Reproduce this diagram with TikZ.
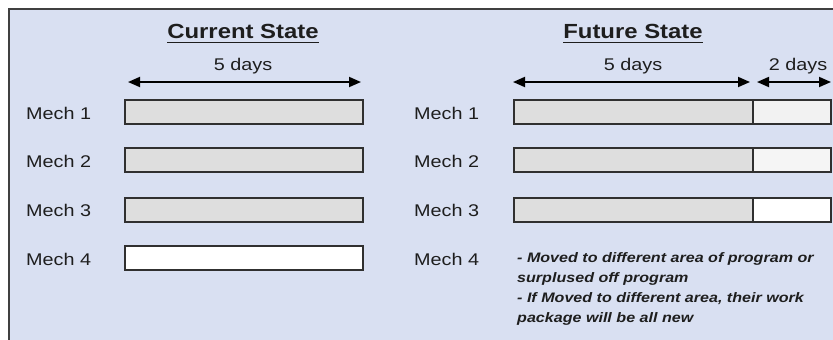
\documentclass[tikz,border=0pt]{standalone}
\usepackage{fontspec}
\setmainfont{Liberation Sans}[FakeStretch=1.17]
\usetikzlibrary{arrows.meta}
\definecolor{bg}{HTML}{D9E0F2}
\definecolor{framec}{HTML}{404040}
\definecolor{barc}{HTML}{303030}
\definecolor{grayfill}{HTML}{DEDEDE}
\definecolor{light1}{HTML}{F2F2F2}
\definecolor{light2}{HTML}{F5F5F5}
\definecolor{txt}{HTML}{1E1E1E}
\tikzset{
  bar/.style={draw=barc, line width=2bp, minimum height=24bp, inner sep=0pt, anchor=west},
  mech/.style={text=txt, font=\fontsize{17}{20}\selectfont, anchor=base west, inner sep=0pt},
  title/.style={text=txt, font=\fontsize{20.5}{24}\selectfont\bfseries, anchor=base, inner sep=0pt},
  days/.style={text=txt, font=\fontsize{17}{20}\selectfont, anchor=base, inner sep=0pt},
  dimarrow/.style={draw=black, line width=1.8bp, {Triangle[length=12bp,width=10bp]}-{Triangle[length=12bp,width=10bp]}},
  note/.style={text=txt, font=\fontsize{13.8}{20}\selectfont\bfseries\itshape, align=left, anchor=base west, inner sep=0pt}
}
\begin{document}
\begin{tikzpicture}[x=1bp,y=-1bp]
\useasboundingbox (0,0) rectangle (833,339);
\clip (0,0) rectangle (833,339);
\draw[fill=bg, draw=framec, line width=2bp] (9,9) rectangle (860,360);

% titles
\node[title] (ct) at (243,38.5) {Current State};
\draw[txt, line width=1.5bp] ([yshift=-4bp]ct.base west) -- ([yshift=-4bp]ct.base east);
\node[title] (ft) at (633,38.5) {Future State};
\draw[txt, line width=1.5bp] ([yshift=-4bp]ft.base west) -- ([yshift=-4bp]ft.base east);

% dimension labels and arrows
\node[days] (cd) at (243,70) {5 days};
\coordinate (ca1) at (128,82);
\coordinate (ca2) at (361,82);
\draw[dimarrow] (ca1) -- (ca2);
\node[days] (fd5) at (633,70) {5 days};
\coordinate (fa1) at (513,82);
\coordinate (fa2) at (750,82);
\draw[dimarrow] (fa1) -- (fa2);
\node[days] (fd2) at (798,70) {2 days};
\coordinate (fb1) at (757,82);
\coordinate (fb2) at (831,82);
\draw[dimarrow] (fb1) -- (fb2);

% current state rows
\node[mech] (cm1) at (26,119) {Mech 1};
\node[mech] (cm2) at (26,167.5) {Mech 2};
\node[mech] (cm3) at (26,216.5) {Mech 3};
\node[mech] (cm4) at (26,265.5) {Mech 4};
\node[bar, fill=grayfill, minimum width=238bp] (cb1) at (124,112) {};
\node[bar, fill=grayfill, minimum width=238bp] (cb2) at (124,160) {};
\node[bar, fill=grayfill, minimum width=238bp] (cb3) at (124,209.5) {};
\node[bar, fill=white, minimum width=238bp] (cb4) at (124,258) {};

% future state rows
\node[mech] (fm1) at (414,119) {Mech 1};
\node[mech] (fm2) at (414,167.5) {Mech 2};
\node[mech] (fm3) at (414,216.5) {Mech 3};
\node[mech] (fm4) at (414,265.5) {Mech 4};
\node[bar, fill=grayfill, minimum width=239bp] (fb1a) at (513,112) {};
\node[bar, fill=light1, minimum width=78bp] (fb1b) at (752,112) {};
\node[bar, fill=grayfill, minimum width=239bp] (fb2a) at (513,160) {};
\node[bar, fill=light2, minimum width=78bp] (fb2b) at (752,160) {};
\node[bar, fill=grayfill, minimum width=239bp] (fb3a) at (513,209.5) {};
\node[bar, fill=white, minimum width=78bp] (fb3b) at (752,209.5) {};

\node[note] (nt) at (517,322) {- Moved to different area of program or\\surplused off program\\- If Moved to different area, their work\\package will be all new};
\end{tikzpicture}
\end{document}
